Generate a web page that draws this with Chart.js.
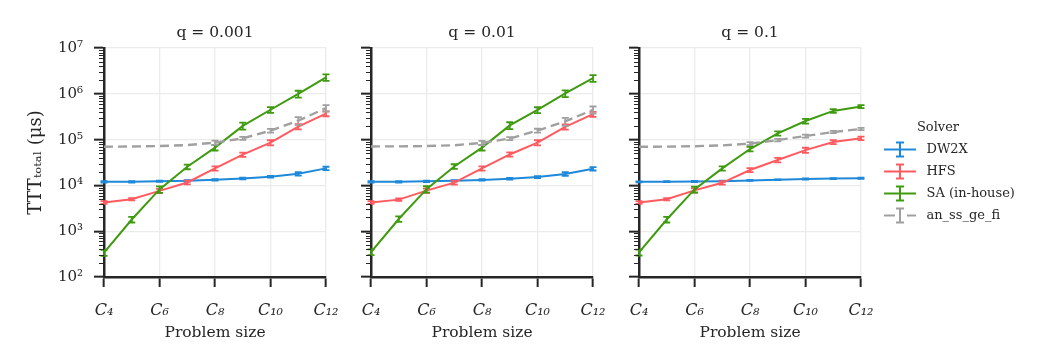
<!DOCTYPE html>
<html lang="en">

<head>
  <meta charset="UTF-8">
  <title>TTT total x problem size</title>
  <script src="https://cdn.jsdelivr.net/npm/chart.js"></script>
  <style>
    body { margin: 0; background: #fff; overflow: hidden; }
    #wrap { position: relative; width: 1038px; height: 346px; background: #fff; }
    canvas { position: absolute; top: 0; }
  </style>
</head>

<body>
  <div id="wrap">
    <canvas id="g1" width="340" height="346" style="left:0px"></canvas>
    <canvas id="g2" width="268" height="346" style="left:340px"></canvas>
    <canvas id="g3" width="268" height="346" style="left:608px"></canvas>
    <canvas id="leg" width="177" height="346" style="left:861px"></canvas>
  </div>
</body>

</html>
<script>
  // dados
  const tamanhos = ['C₄', 'C₅', 'C₆', 'C₇', 'C₈', 'C₉', 'C₁₀', 'C₁₁', 'C₁₂'];
  const decadas = [1e2, 1e3, 1e4, 1e5, 1e6, 1e7];
  const rotulosY = ['10²', '10³', '10⁴', '10⁵', '10⁶', '10⁷'];
  const solvers = ['DW2X', 'HFS', 'SA (in-house)', 'an_ss_ge_fi'];
  const titulos = ['q = 0.001', 'q = 0.01', 'q = 0.1'];

  // q = 0.001
  const dw2x_1 = [12000, 12000, 12400, 12600, 13300, 14200, 15500, 18000, 23600];
  const dw2x_1_err = [400, 400, 400, 400, 500, 600, 700, 1600, 2000];
  const hfs_1 = [4250, 5000, 7600, 11600, 23600, 47000, 86000, 192000, 370000];
  const hfs_1_err = [300, 300, 800, 1100, 2500, 5000, 11000, 25000, 45000];
  const sa_1 = [340, 1800, 8200, 25600, 67000, 200000, 450000, 1000000, 2300000];
  const sa_1_err = [50, 250, 1300, 3000, 9000, 35000, 65000, 170000, 380000];
  const an_1 = [70000, 71000, 72500, 76000, 86000, 107000, 157000, 260000, 490000];
  const an_1_err = [0, 0, 0, 0, 9000, 8000, 15000, 50000, 80000];

  // q = 0.01
  const dw2x_2 = [12000, 12000, 12300, 12600, 13200, 14000, 15200, 17800, 23200];
  const dw2x_2_err = [400, 400, 400, 400, 500, 600, 700, 1600, 2000];
  const hfs_2 = [4250, 4900, 7700, 11500, 23500, 47500, 86000, 190000, 360000];
  const hfs_2_err = [300, 300, 800, 1100, 2500, 5000, 11000, 25000, 45000];
  const sa_2 = [350, 1850, 8300, 26000, 67000, 205000, 445000, 1020000, 2200000];
  const sa_2_err = [50, 250, 1300, 3000, 9000, 35000, 65000, 170000, 380000];
  const an_2 = [71000, 71500, 72500, 75500, 85000, 106000, 158000, 250000, 450000];
  const an_2_err = [0, 0, 0, 0, 9000, 8000, 15000, 50000, 80000];

  // q = 0.1
  const dw2x_3 = [12000, 12100, 12200, 12400, 12900, 13300, 13800, 14100, 14400];
  const dw2x_3_err = [300, 300, 300, 300, 300, 300, 400, 400, 400];
  const hfs_3 = [4250, 5000, 7800, 11400, 21700, 36000, 59000, 89000, 107000];
  const hfs_3_err = [300, 300, 800, 1000, 2200, 4000, 7500, 9000, 9000];
  const sa_3 = [345, 1800, 8200, 23600, 62500, 137000, 255000, 425000, 530000];
  const sa_3_err = [50, 250, 1200, 2600, 7000, 15000, 30000, 40000, 40000];
  const an_3 = [70000, 70500, 72000, 75000, 82000, 98000, 120000, 147000, 171000];
  const an_3_err = [0, 0, 0, 0, 6000, 6000, 9000, 8000, 10000];

  const cores = ['#1e88d9', '#ff5a5f', '#3e9b0f', '#a0a0a0'];
  const texto = '#262626';
  const fonte = 'DejaVu Serif';
  Chart.defaults.font.family = fonte;
  Chart.defaults.color = texto;

  // simbolo da legenda: linha com barra de erro
  function icone(cor, tracejado) {
    var c = document.createElement('canvas');
    c.width = 50;
    c.height = 18;
    var g = c.getContext('2d');
    g.strokeStyle = cor;
    g.lineWidth = 2;
    g.beginPath();
    if (tracejado) {
      g.moveTo(14, 9); g.lineTo(25, 9);
      g.moveTo(37, 9); g.lineTo(46, 9);
    } else {
      g.moveTo(14, 9); g.lineTo(46, 9);
    }
    g.moveTo(30, 2); g.lineTo(30, 16);
    g.moveTo(26, 2); g.lineTo(34, 2);
    g.moveTo(26, 16); g.lineTo(34, 16);
    g.stroke();
    return c;
  }

  const barrasErro = {
    id: 'barrasErro',
    afterDatasetDraw(chart, args) {
      var ds = chart.data.datasets[args.index];
      if (!ds.erros) return;
      var ctx = chart.ctx;
      var x = chart.scales.x;
      var y = chart.scales.y;
      ctx.save();
      ctx.strokeStyle = ds.borderColor;
      ctx.lineWidth = 1.8;
      ctx.setLineDash([]);
      ds.data.forEach(function (v, i) {
        var e = ds.erros[i];
        if (!e) return;
        var px = x.getPixelForValue(i);
        var y1 = y.getPixelForValue(v - e);
        var y2 = y.getPixelForValue(v + e);
        ctx.beginPath();
        ctx.moveTo(px, y1); ctx.lineTo(px, y2);
        ctx.moveTo(px - 3.5, y1); ctx.lineTo(px + 3.5, y1);
        ctx.moveTo(px - 3.5, y2); ctx.lineTo(px + 3.5, y2);
        ctx.stroke();
      });
      ctx.restore();
    }
  };

  // ticks menores do eixo log
  const ticksMenores = {
    id: 'ticksMenores',
    afterDraw(chart) {
      var y = chart.scales.y;
      var ctx = chart.ctx;
      var x0 = chart.chartArea.left;
      ctx.save();
      ctx.strokeStyle = texto;
      ctx.lineWidth = 1;
      for (let d = 2; d < 7; d++) {
        for (let k = 2; k < 10; k++) {
          var py = Math.round(y.getPixelForValue(k * Math.pow(10, d))) + 0.5;
          ctx.beginPath();
          ctx.moveTo(x0 - 5, py);
          ctx.lineTo(x0, py);
          ctx.stroke();
        }
      }
      ctx.restore();
    }
  };

  function montarDatasets(series, erros) {
    return series.map(function (s, i) {
      return {
        label: solvers[i],
        data: s,
        erros: erros ? erros[i] : null,
        borderColor: cores[i],
        backgroundColor: cores[i],
        borderWidth: i == 3 ? 2.4 : 2,
        borderDash: i == 3 ? [9, 5] : [],
        pointRadius: 0,
        pointStyle: icone(cores[i], i == 3),
        tension: 0,
        order: 4 - i
      };
    });
  }

  function criarPainel(id, n, series, erros, larguraY) {
    new Chart(document.getElementById(id), {
      type: 'line',
      data: { labels: tamanhos, datasets: montarDatasets(series, erros) },
      options: {
        responsive: false,
        animation: false,
        events: [],
        layout: { padding: { right: n == 0 ? 14 : 15, left: 0, top: 0, bottom: 0 } },
        plugins: {
          tooltip: { enabled: false },
          legend: { display: false },
          title: {
            display: true,
            text: titulos[n],
            fullSize: false,
            color: texto,
            font: { family: fonte, size: 15.5, weight: 'normal' },
            padding: { top: 24, bottom: 5.5 }
          }
        },
        scales: {
          x: {
            type: 'category',
            offset: false,
            afterBuildTicks: function (s) {
              s.ticks = s.ticks.filter(function (t, i) { return i % 2 == 0; });
            },
            afterFit: function (s) {
              s.height = 69;
              s.paddingLeft = 0;
              s.paddingRight = 0;
            },
            grid: { color: '#ebebeb', lineWidth: 1.3, tickColor: texto, tickLength: 10, tickWidth: 2 },
            border: { color: texto, width: 2.5 },
            ticks: {
              autoSkip: false,
              maxRotation: 0,
              padding: 14,
              color: texto,
              font: { family: fonte, size: 16, style: 'italic' }
            },
            title: {
              display: true,
              text: 'Problem size',
              color: texto,
              font: { family: fonte, size: 15.5 },
              padding: { top: 0, bottom: 4 }
            }
          },
          y: {
            type: 'logarithmic',
            min: 100,
            max: 1e7,
            afterBuildTicks: function (s) {
              s.ticks = decadas.map(function (v) { return { value: v }; });
            },
            afterFit: function (s) {
              s.width = larguraY;
              s.paddingTop = 0;
              s.paddingBottom = 0;
            },
            grid: { color: '#ebebeb', lineWidth: 1.3, tickColor: texto, tickLength: 10, tickWidth: 2 },
            border: { color: texto, width: 2.5 },
            ticks: {
              display: n == 0,
              autoSkip: false,
              padding: 11,
              color: texto,
              font: { family: fonte, size: 15 },
              callback: function (v) {
                var i = decadas.indexOf(v);
                return i >= 0 ? rotulosY[i] : '';
              }
            },
            title: {
              display: n == 0,
              text: 'TTTₜₒₜₐₗ (μs)',
              color: texto,
              font: { family: fonte, size: 18 },
              padding: { top: 26, bottom: 0 }
            }
          }
        }
      },
      plugins: [barrasErro, ticksMenores]
    });
  }

  criarPainel('g1', 0, [dw2x_1, hfs_1, sa_1, an_1], [dw2x_1_err, hfs_1_err, sa_1_err, an_1_err], 104);
  criarPainel('g2', 1, [dw2x_2, hfs_2, sa_2, an_2], [dw2x_2_err, hfs_2_err, sa_2_err, an_2_err], 31);
  criarPainel('g3', 2, [dw2x_3, hfs_3, sa_3, an_3], [dw2x_3_err, hfs_3_err, sa_3_err, an_3_err], 31);

  // legenda em um canvas proprio, a direita
  new Chart(document.getElementById('leg'), {
    type: 'line',
    data: { labels: [], datasets: montarDatasets([[], [], [], []], null) },
    options: {
      responsive: false,
      animation: false,
      events: [],
      layout: { padding: { top: 121, left: 0, right: 0, bottom: 0 } },
      scales: { x: { display: false }, y: { display: false } },
      plugins: {
        tooltip: { enabled: false },
        legend: {
          display: true,
          position: 'top',
          align: 'start',
          labels: {
            usePointStyle: true,
            pointStyleWidth: 50,
            padding: 9,
            color: texto,
            font: { family: fonte, size: 13 },
            sort: function (a, b) { return a.datasetIndex - b.datasetIndex; }
          },
          title: {
            display: true,
            text: 'Solver',
            color: texto,
            font: { family: fonte, size: 13, lineHeight: 1 },
            padding: { top: 0, bottom: 0 }
          }
        }
      }
    }
  });
</script>
